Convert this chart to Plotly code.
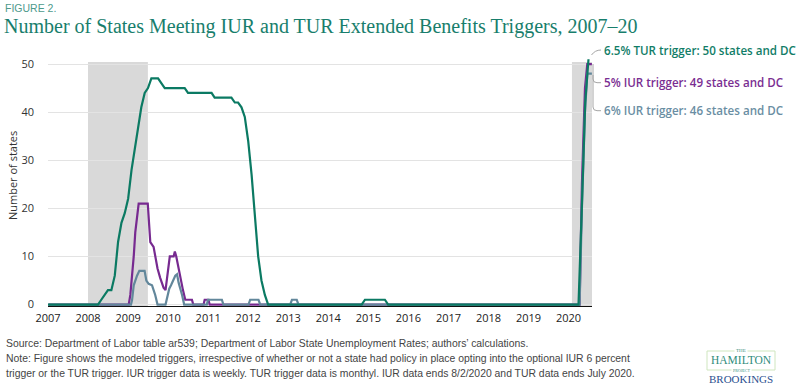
import plotly.graph_objects as go

# ---------------- data ----------------
tur_dates = ["2007-01-01", "2008-04-01", "2008-05-01", "2008-06-01", "2008-07-01", "2008-08-01",
             "2008-09-01", "2008-10-01", "2008-11-01", "2008-12-01", "2009-01-01", "2009-02-01",
             "2009-03-01", "2009-04-01", "2009-05-01", "2009-06-01", "2009-07-01", "2009-08-01",
             "2009-10-01", "2009-11-01", "2009-12-01", "2010-06-01", "2010-07-01", "2011-02-01",
             "2011-03-01", "2011-08-01", "2011-09-01", "2011-10-01", "2011-11-01", "2011-12-01",
             "2012-01-01", "2012-02-01", "2012-03-01", "2012-04-01", "2012-05-01", "2012-06-01",
             "2012-07-01", "2014-11-01", "2014-12-01", "2015-06-01", "2015-07-01", "2020-04-01",
             "2020-05-01", "2020-06-01", "2020-07-01"]
tur_values = [0, 0, 1, 2, 3, 3,
              6, 13, 17, 19, 22, 28,
              32, 37, 41, 44, 45, 47,
              47, 46, 45, 45, 44, 44,
              43, 43, 42, 42, 41, 39,
              34, 27, 19, 10, 5, 2,
              0, 0, 1, 1, 0, 0,
              20, 42, 51]

iur5_dates = ["2007-01-06", "2009-01-06", "2009-01-21", "2009-02-06", "2009-02-21", "2009-03-07",
              "2009-03-23", "2009-04-07", "2009-06-29", "2009-07-22", "2009-08-21", "2009-09-05",
              "2009-09-26", "2009-10-21", "2009-11-20", "2009-12-08", "2009-12-21", "2010-01-05",
              "2010-01-16", "2010-02-20", "2010-03-03", "2010-03-16", "2010-04-01", "2010-04-21",
              "2010-05-16", "2010-06-06", "2010-08-06", "2010-08-18", "2010-11-20", "2010-11-30",
              "2011-01-04", "2011-01-14", "2020-04-11", "2020-05-02", "2020-05-30", "2020-06-20",
              "2020-08-01"]
iur5_values = [0, 0, 2, 6, 10, 15,
               18, 21, 21, 13, 12, 10,
               7.5, 5.5, 3.5, 3, 5, 7.5,
               10, 10, 11, 10, 8, 5.5,
               3, 1, 1, 0, 0, 1,
               1, 0, 0, 25, 45, 50,
               50]

iur6_dates = ["2007-01-06", "2009-01-27", "2009-02-06", "2009-02-21", "2009-03-23", "2009-04-13",
              "2009-05-31", "2009-06-16", "2009-07-07", "2009-08-07", "2009-09-05", "2009-09-26",
              "2009-12-08", "2009-12-21", "2010-01-11", "2010-01-27", "2010-03-07", "2010-03-23",
              "2010-04-07", "2010-05-08", "2010-05-27", "2010-12-20", "2010-12-30", "2011-05-06",
              "2011-05-20", "2012-01-04", "2012-01-19", "2012-04-04", "2012-04-20", "2013-01-18",
              "2013-02-03", "2013-03-19", "2013-04-04", "2020-04-11", "2020-05-02", "2020-05-30",
              "2020-06-20", "2020-08-01"]
iur6_values = [0, 0, 1, 4, 6, 7,
               7, 5, 4.3, 4, 2, 0,
               0, 1.5, 3.3, 4, 6, 6.3,
               4.5, 2, 0, 0, 1, 1,
               0, 0, 1, 1, 0, 0,
               1, 1, 0, 0, 20, 40,
               48, 48]

recessions = [("2008-01-01", "2009-06-30"), ("2020-02-01", "2020-08-02")]
year_ticks = [f"{y}-01-01" for y in range(2007, 2021)]
year_labels = [str(y) for y in range(2007, 2021)]
y_ticks = [0, 10, 20, 30, 40, 50]

TEAL = "#0b7a63"
PURPLE = "#772a90"
GRAYBLUE = "#62879b"

# ---------------- geometry helpers (pixel -> paper) ----------------
W, H = 800, 387
ML, MR, MT, MB = 48, 208, 52, 81
PW, PH = W - ML - MR, H - MT - MB


def px(x):
    return (x - ML) / PW


def py(y):
    return (H - MB - y) / PH


fig = go.Figure()
fig.add_trace(go.Scatter(x=iur5_dates, y=iur5_values, mode="lines",
                         line=dict(color=PURPLE, width=2.2), name="5% IUR"))
fig.add_trace(go.Scatter(x=iur6_dates, y=iur6_values, mode="lines",
                         line=dict(color=GRAYBLUE, width=2.2), name="6% IUR"))
fig.add_trace(go.Scatter(x=tur_dates, y=tur_values, mode="lines",
                         line=dict(color=TEAL, width=2.2), name="6.5% TUR"))

shapes = []
for a, b in recessions:
    shapes.append(dict(type="rect", xref="x", yref="y", x0=a, x1=b, y0=-0.3, y1=50.4,
                       fillcolor="#d9d9d9", line=dict(width=0), layer="below"))

# leader lines
lead_col = "#a6a6a6"
shapes.append(dict(type="path", xref="paper", yref="paper", line=dict(color=lead_col, width=1),
                   path=f"M {px(591.5)},{py(55)} Q {px(595)},{py(50)} {px(601)},{py(50)}"))
shapes.append(dict(type="path", xref="paper", yref="paper", line=dict(color=lead_col, width=1),
                   path=f"M {px(593)},{py(64)} L {px(593)},{py(79)} Q {px(593)},{py(82.7)} {px(597)},{py(82.7)} L {px(601)},{py(82.7)}"))
shapes.append(dict(type="path", xref="paper", yref="paper", line=dict(color=lead_col, width=1),
                   path=f"M {px(593)},{py(75)} L {px(593)},{py(107)} Q {px(593)},{py(110.7)} {px(597)},{py(110.7)} L {px(601)},{py(110.7)}"))
# logo box
shapes.append(dict(type="rect", xref="paper", yref="paper", x0=px(707), x1=px(775), y0=py(351), y1=py(370),
                   line=dict(color="#cfe6bf", width=1), fillcolor="white"))

ann = []
ann.append(dict(text="FIGURE 2.", x=px(3), y=py(8), xanchor="left", yanchor="middle",
                font=dict(family="Liberation Sans, Arial", size=10.5, color="#4d9a8c")))
ann.append(dict(text="Number of States Meeting IUR and TUR Extended Benefits Triggers, 2007\u201320",
                x=px(2), y=py(27), xanchor="left", yanchor="middle",
                font=dict(family="Liberation Serif, Times New Roman, serif", size=20, color="#187e6c")))
ann.append(dict(text="Number of states", x=px(12), y=py(176), textangle=-90, xanchor="center", yanchor="middle",
                font=dict(family="Open Sans", size=11, color="#333333")))
lab_font = "Open Sans"
ann.append(dict(text="6.5% TUR trigger: 50 states and DC", x=px(602), y=py(50), xanchor="left", yanchor="middle",
                font=dict(family=lab_font, size=11.6, color="#117d67", weight=600)))
ann.append(dict(text="5% IUR trigger: 49 states and DC", x=px(602), y=py(82.7), xanchor="left", yanchor="middle",
                font=dict(family=lab_font, size=11.6, color="#7a2e92", weight=600)))
ann.append(dict(text="6% IUR trigger: 46 states and DC", x=px(602), y=py(110.7), xanchor="left", yanchor="middle",
                font=dict(family=lab_font, size=11.6, color="#6a8ea3", weight=600)))

note_font = dict(family="Liberation Sans, Arial", size=10.4, color="#444444")
ann.append(dict(text="Source: Department of Labor table ar539; Department of Labor State Unemployment Rates; authors\u2019 calculations.",
                x=px(4), y=py(343), xanchor="left", yanchor="middle", font=note_font))
ann.append(dict(text="Note: Figure shows the modeled triggers, irrespective of whether or not a state had policy in place opting into the optional IUR 6 percent",
                x=px(4), y=py(358), xanchor="left", yanchor="middle", font=note_font))
ann.append(dict(text="trigger or the TUR trigger. IUR trigger data is weekly. TUR trigger data is monthyl. IUR data ends 8/2/2020 and TUR data ends July 2020.",
                x=px(4), y=py(373), xanchor="left", yanchor="middle", font=note_font))

# logo texts
ann.append(dict(text="THE", x=px(741), y=py(350.5), xanchor="center", yanchor="middle",
                font=dict(family="Liberation Serif", size=5, color="#2f8c7c"), bgcolor="white"))
ann.append(dict(text="HAMILTON", x=px(741), y=py(360), xanchor="center", yanchor="middle",
                font=dict(family="Liberation Serif", size=11.5, color="#2f8c7c")))
ann.append(dict(text="PROJECT", x=px(741), y=py(370), xanchor="center", yanchor="middle",
                font=dict(family="Liberation Serif", size=4, color="#2f8c7c"), bgcolor="white"))
ann.append(dict(text="BROOKINGS", x=px(741), y=py(379), xanchor="center", yanchor="middle",
                font=dict(family="Liberation Serif", size=11, color="#2c4f8f")))

for a in ann:
    a.update(xref="paper", yref="paper", showarrow=False)

fig.update_layout(
    width=W, height=H,
    margin=dict(l=ML, r=MR, t=MT, b=MB),
    paper_bgcolor="white", plot_bgcolor="white",
    showlegend=False,
    shapes=shapes, annotations=ann,
    xaxis=dict(type="date", range=["2007-01-01", "2020-08-02"], tickvals=year_ticks, ticktext=year_labels,
               showgrid=False, zeroline=False, showline=True, linecolor="#111111", linewidth=1,
               ticks="", tickfont=dict(family="Open Sans", size=11, color="#222222"), ticklabelstandoff=2),
    yaxis=dict(range=[-0.3, 52.5], tickvals=y_ticks, showgrid=True, gridcolor="#e3e3e3", gridwidth=1,
               zeroline=False, showline=False, ticks="",
               tickfont=dict(family="Open Sans", size=11, color="#333333"), ticklabelstandoff=13),
)

fig.write_html("out.html", config={"displayModeBar": False},
               post_script="document.body.style.margin='0';document.body.style.padding='0';")
